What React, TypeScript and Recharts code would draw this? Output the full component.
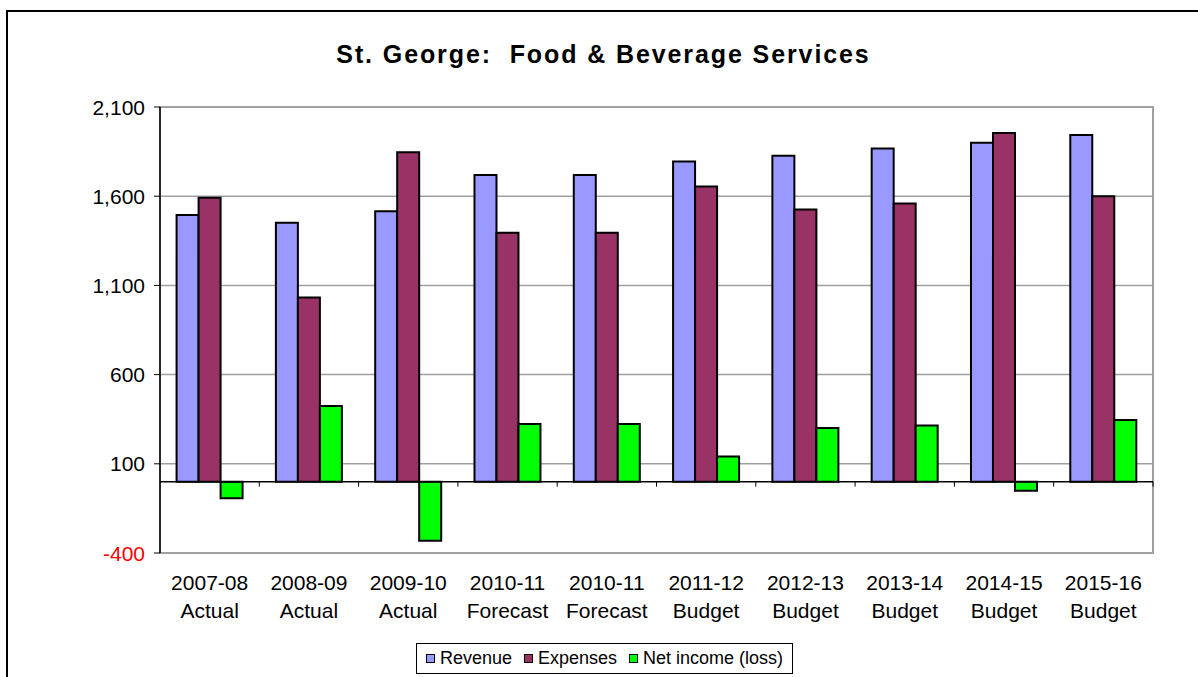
import React from "react";
import { BarChart, Bar, XAxis, YAxis, CartesianGrid, ReferenceLine, ReferenceArea } from "recharts";

const YEARS = ["2007-08", "2008-09", "2009-10", "2010-11", "2010-11", "2011-12", "2012-13", "2013-14", "2014-15", "2015-16"];
const KINDS = ["Actual", "Actual", "Actual", "Forecast", "Forecast", "Budget", "Budget", "Budget", "Budget", "Budget"];

const REVENUE = [1494, 1451, 1516, 1719, 1719, 1794, 1827, 1868, 1900, 1943];
const EXPENSES = [1591, 1032, 1846, 1395, 1395, 1654, 1526, 1559, 1954, 1600];
const NET_INCOME = [-93, 424, -332, 323, 323, 141, 301, 314, -51, 346];

const Y_TICKS = [-400, 100, 600, 1100, 1600, 2100];

const SERIES = [
    { key: "revenue", name: "Revenue", color: "#9999ff" },
    { key: "expenses", name: "Expenses", color: "#993366" },
    { key: "net", name: "Net income (loss)", color: "#00ff00" }
];

const FONT = "'Liberation Sans', Arial, sans-serif";

const data = YEARS.map((y, i) => ({
    label: `${y} ${KINDS[i]}`,
    revenue: REVENUE[i],
    expenses: EXPENSES[i],
    net: NET_INCOME[i]
}));

const fmt = (v: number) => v.toLocaleString("en-US");

const CategoryTick = ({ x, y, payload, index }: any) => {
    const i = payload?.index ?? index;
    return (
        <text x={x} y={y} textAnchor="middle" fontFamily={FONT} fontSize={21} fill="#000">
            <tspan x={x} dy={37}>{YEARS[i]}</tspan>
            <tspan x={x} dy={28}>{KINDS[i]}</tspan>
        </text>
    );
};

const ValueTick = ({ x, y, payload }: any) => (
    <text x={x} y={y} dy="0.36em" textAnchor="end" fontFamily={FONT} fontSize={21}
        fill={payload.value < 0 ? "#ff0000" : "#000"}>
        {fmt(payload.value)}
    </text>
);

// zero axis line with the little category ticks hanging below it
const ZeroAxis = (props: any) => {
    const { x1, y1, x2 } = props;
    const step = (x2 - x1) / YEARS.length;
    return (
        <g>
            <line x1={x1} y1={y1} x2={x2} y2={y1} stroke="#000" strokeWidth={1.5} />
            {YEARS.map((_, i) => (
                <line key={i} x1={x1 + step * (i + 1)} x2={x1 + step * (i + 1)} y1={y1} y2={y1 + 5} stroke="#000" strokeWidth={1} />
            ))}
        </g>
    );
};

export default function App() {
    return (
        <div style={{ position: "absolute", left: 0, top: 0, width: 1198, height: 677, overflow: "hidden", background: "#fff", fontFamily: FONT }}>
            <div style={{ position: "absolute", left: 6, top: 10, width: 1400, height: 900, border: "2px solid #000" }} />

            <div style={{
                position: "absolute", left: 0, width: 1207, top: 42, textAlign: "center",
                fontSize: 25, fontWeight: "bold", lineHeight: 1, letterSpacing: 1.9
            }}>
                St. George:&nbsp; Food &amp; Beverage Services
            </div>

            <div style={{ position: "absolute", left: 0, top: 0 }}>
                <BarChart
                    width={1198}
                    height={677}
                    data={data}
                    margin={{ top: 107, right: 45, bottom: 0, left: 0 }}
                    barCategoryGap="16.7%"
                    barGap={0}
                >
                    <CartesianGrid horizontal vertical={false} stroke="#a0a0a0" strokeWidth={1.5} />
                    <ReferenceArea y1={-400} y2={2100} fill="none" stroke="#a0a0a0" strokeWidth={2} />
                    <XAxis
                        dataKey="label"
                        height={124}
                        axisLine={false}
                        tickLine={false}
                        tickSize={0}
                        tickMargin={0}
                        interval={0}
                        tick={<CategoryTick />}
                    />
                    <YAxis
                        width={160}
                        domain={[-400, 2100]}
                        ticks={Y_TICKS}
                        interval={0}
                        allowDataOverflow
                        axisLine={{ stroke: "#000", strokeWidth: 1.5 }}
                        tickLine={{ stroke: "#000", strokeWidth: 1 }}
                        tickSize={6}
                        tickMargin={9}
                        tick={<ValueTick />}
                    />
                    {SERIES.map(s => (
                        <Bar key={s.key} dataKey={s.key} name={s.name} fill={s.color} stroke="#000" strokeWidth={2} isAnimationActive={false} />
                    ))}
                    <ReferenceLine y={0} shape={<ZeroAxis />} />
                </BarChart>
            </div>

            <div style={{
                position: "absolute", left: 416, top: 643, width: 375, height: 29,
                border: "1px solid #000", display: "flex", alignItems: "center", justifyContent: "center",
                gap: 12, fontSize: 18
            }}>
                {SERIES.map(s => (
                    <div key={s.key} style={{ display: "flex", alignItems: "center", gap: 5 }}>
                        <span style={{ width: 7, height: 7, background: s.color, border: "1.5px solid #000", display: "inline-block" }} />
                        <span>{s.name}</span>
                    </div>
                ))}
            </div>
        </div>
    );
}
